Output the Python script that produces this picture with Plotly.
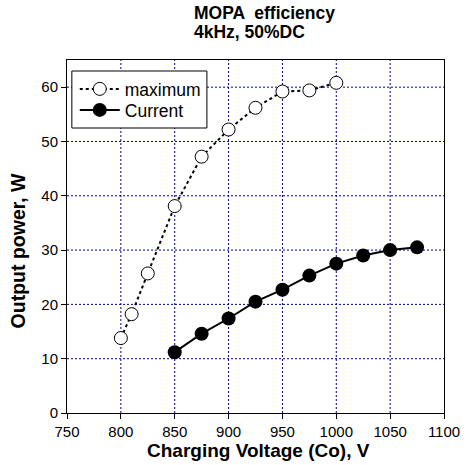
import plotly.graph_objects as go

# Charging voltage (V) and output power (W)
max_voltage = [800, 810, 825, 850, 875, 900, 925, 950, 975, 1000]
max_power = [13.8, 18.2, 25.7, 38.1, 47.2, 52.2, 56.2, 59.2, 59.4, 60.8]

cur_voltage = [850, 875, 900, 925, 950, 975, 1000, 1025, 1050, 1075]
cur_power = [11.2, 14.6, 17.4, 20.5, 22.7, 25.3, 27.5, 29.0, 30.0, 30.5]

x_ticks = [750, 800, 850, 900, 950, 1000, 1050, 1100]
y_ticks = [0, 10, 20, 30, 40, 50, 60]

title_lines = ["MOPA  efficiency", "4kHz, 50%DC"]

FONT = "Liberation Sans, Arial, sans-serif"
GRID = "#000090"

# plot area in pixels
L, R, T, B = 67, 455, 60, 413
W, H = R - L, B - T


def px_x(p):
    return (p - L) / W


def px_y(p):
    return (B - p) / H


fig = go.Figure()

fig.add_trace(go.Scatter(
    x=max_voltage, y=max_power, name="maximum", mode="lines+markers",
    line=dict(color="black", width=2, dash="dot"),
    marker=dict(symbol="circle", size=13, color="white",
                line=dict(color="black", width=1)),
    legend="legend",
))
fig.add_trace(go.Scatter(
    x=cur_voltage, y=cur_power, name="Current", mode="lines+markers",
    line=dict(color="black", width=2),
    marker=dict(symbol="circle", size=14, color="black"),
    legend="legend2",
))

legend_style = dict(xanchor="left", yanchor="middle",
                    bgcolor="rgba(0,0,0,0)", borderwidth=0,
                    font=dict(size=17.5, family=FONT), itemwidth=40)

fig.update_layout(
    width=472, height=465,
    margin=dict(l=L, r=472 - R, t=T, b=465 - B),
    paper_bgcolor="white", plot_bgcolor="white",
    font=dict(family=FONT, color="black", size=15),
    showlegend=True,
    legend=dict(x=px_x(75), y=px_y(89), **legend_style),
    legend2=dict(x=px_x(75), y=px_y(110), **legend_style),
)

fig.update_xaxes(
    range=[750, 1100], tickvals=x_ticks, ticktext=[str(v) for v in x_ticks],
    showline=True, linecolor="black", linewidth=1, mirror=True,
    ticks="outside", ticklen=5, tickcolor="black",
    showgrid=False, zeroline=False,
    tickfont=dict(size=15, family=FONT),
)
fig.update_yaxes(
    range=[0, 65], tickvals=y_ticks, ticktext=[str(v) for v in y_ticks],
    showline=True, linecolor="black", linewidth=1, mirror=True,
    ticks="outside", ticklen=5, tickcolor="black",
    showgrid=False, zeroline=False,
    tickfont=dict(size=15, family=FONT),
)

# Dotted gridlines at interior ticks
for xv in x_ticks[1:-1]:
    fig.add_shape(type="line", xref="x", yref="paper", x0=xv, x1=xv, y0=0, y1=1,
                  line=dict(color=GRID, width=1, dash="2px,2px"), layer="below")
for yv in y_ticks[1:]:
    fig.add_shape(type="line", xref="paper", yref="y", x0=0, x1=1, y0=yv, y1=yv,
                  line=dict(color=GRID, width=1, dash="2px,2px"), layer="below")

# Legend frame shared by both legend rows
fig.add_shape(type="rect", xref="paper", yref="paper",
              x0=px_x(72), x1=px_x(211), y0=px_y(128), y1=px_y(71),
              fillcolor="white", line=dict(color="black", width=1), layer="above")

# Two-line title, left aligned
for line, ypix in zip(title_lines, [13, 32]):
    fig.add_annotation(
        text="<b>" + line + "</b>", xref="paper", yref="paper",
        x=px_x(196), y=px_y(ypix), xanchor="left", yanchor="middle",
        showarrow=False, font=dict(size=17.5, family=FONT),
    )

fig.add_annotation(
    text="<b>Charging Voltage (Co), V</b>", xref="paper", yref="paper",
    x=px_x(264), y=px_y(450), xanchor="center", yanchor="middle",
    showarrow=False, font=dict(size=19, family=FONT),
)
fig.add_annotation(
    text="<b>Output power, W</b>", xref="paper", yref="paper",
    x=px_x(17), y=px_y(251), xanchor="center", yanchor="middle",
    textangle=-90, showarrow=False, font=dict(size=19.5, family=FONT),
)

fig.write_html("out.html")
